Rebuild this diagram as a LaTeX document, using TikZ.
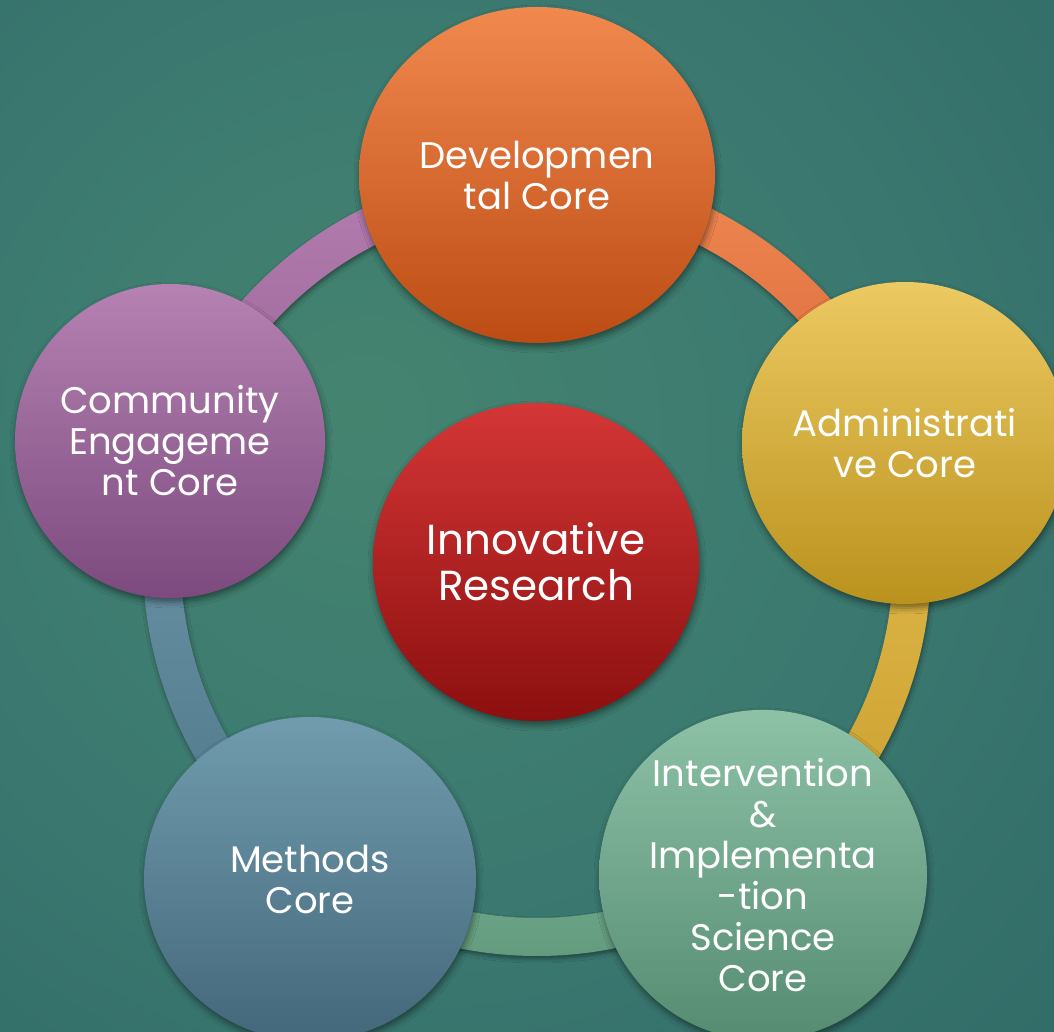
\documentclass[tikz,border=0pt]{standalone}
\usepackage{fontspec}
\setmainfont{Poppins}
\usetikzlibrary{shapes.geometric,shadows.blur,calc}
\definecolor{bgA}{HTML}{44846F}
\definecolor{bgB}{HTML}{3B7970}
\definecolor{bgC}{HTML}{2E6765}
\definecolor{bgD}{HTML}{21505A}
\definecolor{devT}{HTML}{F1894F}
\definecolor{devB}{HTML}{BC4C13}
\definecolor{admT}{HTML}{ECC962}
\definecolor{admB}{HTML}{BA921D}
\definecolor{intT}{HTML}{8DC2A7}
\definecolor{intB}{HTML}{558B71}
\definecolor{metT}{HTML}{709CAE}
\definecolor{metB}{HTML}{44677A}
\definecolor{comT}{HTML}{B582B2}
\definecolor{comB}{HTML}{7C4A7E}
\definecolor{cenT}{HTML}{D43636}
\definecolor{cenB}{HTML}{8C0F0F}
\definecolor{obT}{HTML}{F08852}
\definecolor{obB}{HTML}{D8683A}
\definecolor{ybT}{HTML}{E2BC4F}
\definecolor{ybB}{HTML}{C99E2C}
\definecolor{gbT}{HTML}{72AC8D}
\definecolor{gbB}{HTML}{60977B}
\definecolor{bbT}{HTML}{6D97AA}
\definecolor{bbB}{HTML}{4F7689}
\definecolor{pbT}{HTML}{B47EB0}
\definecolor{pbB}{HTML}{9A6596}
\pgfdeclareradialshading{bgshade}{\pgfpoint{-8bp}{5bp}}{color(0bp)=(bgA); color(22bp)=(bgB); color(48bp)=(bgC); color(75bp)=(bgD)}
\newcommand{\ringband}[4]{%
  \shade[band, top color=#3, bottom color=#4]
    ($(O)+(#1:394pt)$) arc[start angle=#1, end angle=#2, radius=394pt]
    -- ($(O)+(#2:356pt)$) arc[start angle=#2, end angle=#1, radius=356pt] -- cycle;}
\begin{document}
\begin{tikzpicture}[x=1pt,y=1pt,
  core/.style={ellipse, inner sep=0pt, text=white, align=center,
    font=\fontsize{37}{41}\selectfont,
    blur shadow={shadow xshift=1pt, shadow yshift=-4pt, shadow blur radius=6pt, shadow opacity=45}},
  band/.style={blur shadow={shadow xshift=1pt, shadow yshift=-3pt, shadow blur radius=4pt, shadow opacity=40}}]
\useasboundingbox (0,0) rectangle (1054,1031);
\shade[shading=bgshade] (0,0) rectangle (1054,1031);
\coordinate (O) at (537,469);
% ring segments
\ringband{90}{18}{obT}{obB}
\ringband{18}{-54}{ybT}{ybB}
\ringband{-54}{-126}{gbT}{gbB}
\ringband{-126}{-198}{bbT}{bbB}
\ringband{162}{90}{pbT}{pbB}
% nodes
\node[core, minimum width=356pt, minimum height=336pt, top color=devT, bottom color=devB] (dev) at (537,856) {Developmen\\tal Core};
\node[core, minimum width=326pt, minimum height=322pt, top color=admT, bottom color=admB] (adm) at (905,588) {Administrati\\ve Core};
\node[core, minimum width=328pt, minimum height=324pt, top color=intT, bottom color=intB] (int) at (763,156) {Intervention\\\&\\Implementa\\-tion\\Science\\Core};
\node[core, minimum width=332pt, minimum height=324pt, top color=metT, bottom color=metB] (met) at (310,152) {Methods\\Core};
\node[core, minimum width=310pt, minimum height=314pt, top color=comT, bottom color=comB] (com) at (170,590) {Community\\Engageme\\nt Core};
\node[core, minimum width=326pt, minimum height=318pt, top color=cenT, bottom color=cenB, font=\fontsize{42}{46}\selectfont] (cen) at (536,469) {Innovative\\Research};
\end{tikzpicture}
\end{document}
